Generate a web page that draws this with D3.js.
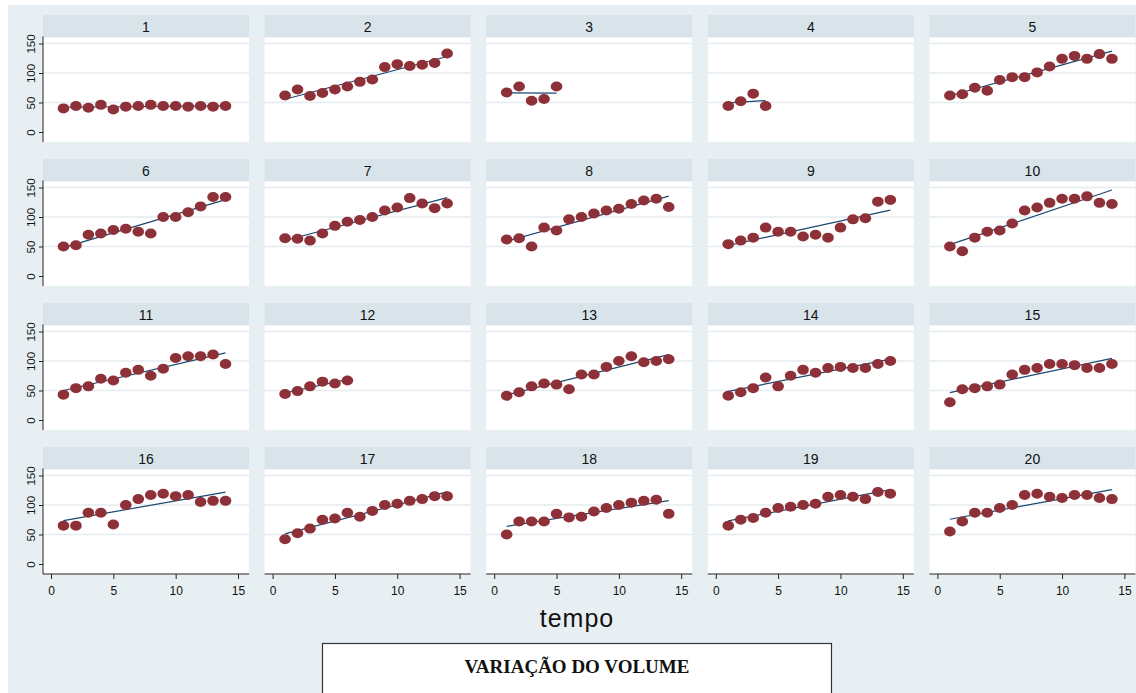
<!DOCTYPE html>
<html>
<head>
<meta charset="utf-8">
<script src="https://cdn.jsdelivr.net/npm/d3@7"></script>
<style>
  html, body { margin: 0; padding: 0; background: #ffffff; }
  svg { display: block; }
</style>
</head>
<body>
<svg id="chart" width="1136" height="693"></svg>
<script>
// Volume measured at each time step, one series per unit (1..20)
const tempo = [1, 2, 3, 4, 5, 6, 7, 8, 9, 10, 11, 12, 13, 14];
const panelLabels = ["1","2","3","4","5","6","7","8","9","10","11","12","13","14","15","16","17","18","19","20"];

const vol01 = [40, 44, 41, 46, 38, 43, 44, 46, 44, 44, 43, 44, 43, 44];
const vol02 = [62, 72, 61, 66, 72, 77, 85, 89, 110, 115, 112, 114, 117, 133];
const vol03 = [67, 77, 53, 56, 77];
const vol04 = [44, 52, 65, 44];
const vol05 = [62, 64, 75, 70, 88, 93, 93, 101, 111, 124, 129, 124, 132, 124];
const vol06 = [50, 52, 70, 72, 78, 80, 75, 72, 100, 100, 108, 118, 134, 134];
const vol07 = [64, 63, 60, 72, 85, 92, 95, 100, 111, 116, 132, 123, 115, 123];
const vol08 = [62, 64, 50, 82, 77, 96, 100, 106, 111, 114, 122, 128, 131, 117];
const vol09 = [54, 60, 65, 82, 75, 75, 67, 70, 65, 82, 96, 98, 126, 129];
const vol10 = [50, 42, 65, 75, 77, 89, 111, 116, 124, 131, 131, 135, 124, 122];
const vol11 = [43, 54, 57, 70, 67, 80, 85, 75, 87, 105, 108, 108, 111, 95];
const vol12 = [44, 49, 57, 65, 62, 67];
const vol13 = [41, 47, 57, 62, 60, 52, 77, 77, 90, 100, 108, 98, 100, 103];
const vol14 = [41, 47, 54, 72, 57, 75, 85, 80, 88, 90, 88, 88, 95, 100];
const vol15 = [30, 52, 54, 57, 60, 77, 85, 88, 95, 95, 93, 88, 88, 95];
const vol16 = [65, 65, 87, 87, 67, 100, 110, 117, 119, 115, 117, 105, 107, 107];
const vol17 = [42, 52, 60, 75, 77, 87, 80, 90, 100, 102, 107, 110, 115, 115];
const vol18 = [50, 72, 72, 72, 85, 79, 80, 89, 95, 100, 104, 107, 109, 85];
const vol19 = [65, 75, 78, 87, 95, 97, 100, 102, 114, 117, 114, 110, 122, 119];
const vol20 = [55, 72, 87, 87, 95, 100, 117, 119, 114, 112, 117, 117, 112, 110];

const volumes = [vol01, vol02, vol03, vol04, vol05, vol06, vol07, vol08, vol09, vol10,
                 vol11, vol12, vol13, vol14, vol15, vol16, vol17, vol18, vol19, vol20];

const yTicks = [0, 50, 100, 150];
const xTicks = [0, 5, 10, 15];
const xTitle = "tempo";
const legendTitle = "VARIAÇÃO DO VOLUME";

// Layout
const W = 1136, H = 693;
const nCols = 5, nRows = 4;
const gridLeft = 43, gridTop = 15;
const colStep = 221.6, rowStep = 144;
const panelW = 206, stripH = 22.5, plotH = 104.5;

const C = {
  outer: "#e8eff2",
  strip: "#d8e4ea",
  plot: "#ffffff",
  grid: "#e4ecef",
  marker: "#8e3037",
  fit: "#1a476f",
  text: "#111111"
};
const sans = "'Liberation Sans', Arial, sans-serif";
const serif = "'Liberation Serif', 'Times New Roman', serif";

const svg = d3.select("#chart");

// graph region background
svg.append("rect").attr("x", 8).attr("y", 5).attr("width", W - 8).attr("height", H - 5)
  .attr("fill", C.outer);

// shared scales (relative to each plot region)
const x = d3.scaleLinear().domain([0, 15]).range([8, 195]);
const y = d3.scaleLinear().domain([0, 150]).range([94.5, 6]);

// least-squares fit of a series against tempo
function linearFit(xs, ys) {
  const mx = d3.mean(xs), my = d3.mean(ys);
  let sxy = 0, sxx = 0;
  xs.forEach((xi, i) => { sxy += (xi - mx) * (ys[i] - my); sxx += (xi - mx) ** 2; });
  const b = sxy / sxx;
  return xv => my + b * (xv - mx);
}

volumes.forEach((vals, i) => {
  const col = i % nCols, row = Math.floor(i / nCols);
  const left = gridLeft + col * colStep;
  const top = gridTop + row * rowStep;
  const g = svg.append("g").attr("transform", `translate(${left},${top})`);

  // strip with the panel label
  g.append("rect").attr("width", panelW).attr("height", stripH).attr("fill", C.strip);
  g.append("text").attr("x", panelW / 2).attr("y", 16.5)
    .attr("text-anchor", "middle").attr("font-family", sans).attr("font-size", 14)
    .attr("fill", C.text).text(panelLabels[i]);

  const p = g.append("g").attr("transform", `translate(0,${stripH})`);
  p.append("rect").attr("width", panelW).attr("height", plotH).attr("fill", C.plot);

  // horizontal gridlines
  p.selectAll("line.grid").data(yTicks.filter(t => t > 0)).join("line")
    .attr("class", "grid")
    .attr("x1", 0).attr("x2", panelW)
    .attr("y1", d => y(d)).attr("y2", d => y(d))
    .attr("stroke", C.grid).attr("stroke-width", 1.3);

  const xs = tempo.slice(0, vals.length);
  const fit = linearFit(xs, vals);
  const x0 = d3.min(xs), x1 = d3.max(xs);
  p.append("line")
    .attr("x1", x(x0)).attr("y1", y(fit(x0)))
    .attr("x2", x(x1)).attr("y2", y(fit(x1)))
    .attr("stroke", C.fit).attr("stroke-width", 1.2);

  p.selectAll("ellipse").data(vals).join("ellipse")
    .attr("cx", (d, j) => x(xs[j]))
    .attr("cy", d => y(d))
    .attr("rx", 5.8).attr("ry", 5)
    .attr("fill", C.marker);

  // y axis on first column
  if (col === 0) {
    const ax = p.append("g").call(d3.axisLeft(y).tickValues(yTicks).tickSize(4).tickSizeOuter(0));
    ax.select(".domain").remove();
    ax.selectAll(".tick line").attr("stroke", "#222");
    ax.selectAll(".tick text")
      .attr("font-family", sans).attr("font-size", 11.5).attr("fill", C.text)
      .attr("x", null).attr("dy", null)
      .attr("transform", "translate(-8.5,0) rotate(-90)")
      .attr("text-anchor", "middle").attr("dominant-baseline", "auto");
    p.append("line").attr("x1", 0).attr("x2", 0).attr("y1", -1).attr("y2", plotH)
      .attr("stroke", "#222").attr("stroke-width", 1);
  }

  // x axis on bottom row
  if (row === nRows - 1) {
    const ax = p.append("g").attr("transform", `translate(0,${plotH})`)
      .call(d3.axisBottom(x).tickValues(xTicks).tickSize(5).tickSizeOuter(0));
    ax.select(".domain").remove();
    ax.selectAll(".tick line").attr("stroke", "#222");
    ax.selectAll(".tick text")
      .attr("font-family", sans).attr("font-size", 12).attr("fill", C.text)
      .attr("y", 21).attr("dy", null);
    p.append("line").attr("x1", 0).attr("x2", panelW).attr("y1", plotH).attr("y2", plotH)
      .attr("stroke", "#222").attr("stroke-width", 1);
  }
});

// x-axis title
svg.append("text").attr("x", 577).attr("y", 627)
  .attr("text-anchor", "middle").attr("font-family", sans).attr("font-size", 25)
  .attr("letter-spacing", 1).attr("fill", C.text).text(xTitle);

// legend box
svg.append("rect").attr("x", 322.5).attr("y", 643.5).attr("width", 509).attr("height", 60)
  .attr("fill", "#ffffff").attr("stroke", "#333").attr("stroke-width", 1.2);
svg.append("text").attr("x", 577).attr("y", 673)
  .attr("text-anchor", "middle").attr("font-family", serif).attr("font-weight", "bold")
  .attr("font-size", 19).attr("fill", C.text).text(legendTitle);
</script>
</body>
</html>
